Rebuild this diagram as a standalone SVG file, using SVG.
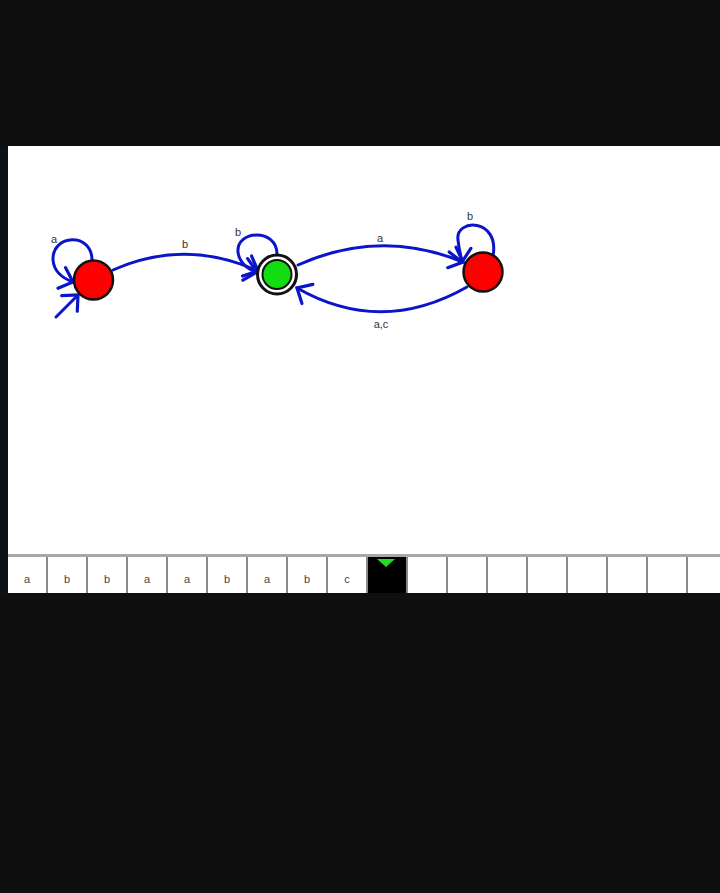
<svg xmlns="http://www.w3.org/2000/svg" width="720" height="893" viewBox="0 0 720 893">
<style>
.e{fill:none;stroke:#0a14c8;stroke-width:3;stroke-linecap:round}
.lbl{font-family:"Liberation Sans",Arial,sans-serif;font-size:11px;fill:#333;text-anchor:middle}
.tp{font-family:"Liberation Sans",Arial,sans-serif;font-size:11px;fill:#444;text-anchor:middle}
.sep{fill:#8a8a8a}
.st{stroke:#111;stroke-width:2.5}
</style>
<defs>
<marker id="ah" markerUnits="userSpaceOnUse" markerWidth="34" markerHeight="34" viewBox="-17 -17 34 34" refX="0" refY="0" orient="auto">
<path d="M-12,-11 L0,0 L-12,11" fill="none" stroke="#0a14c8" stroke-width="3.2" stroke-linecap="round"/>
</marker>
</defs>
<rect x="0" y="0" width="720" height="893" fill="#0f0f0f"/>
<rect x="0" y="146" width="8" height="448" fill="#0d1119"/>
<rect x="8" y="146" width="712" height="409" fill="#fff"/>
<g id="tape">
<rect x="8" y="554" width="712" height="3" fill="#a8a8a8"/>
<rect x="8" y="557" width="712" height="36" fill="#fff"/>
<rect x="46" y="557" width="2" height="36" class="sep"/>
<rect x="86" y="557" width="2" height="36" class="sep"/>
<rect x="126" y="557" width="2" height="36" class="sep"/>
<rect x="166" y="557" width="2" height="36" class="sep"/>
<rect x="206" y="557" width="2" height="36" class="sep"/>
<rect x="246" y="557" width="2" height="36" class="sep"/>
<rect x="286" y="557" width="2" height="36" class="sep"/>
<rect x="326" y="557" width="2" height="36" class="sep"/>
<rect x="366" y="557" width="2" height="36" class="sep"/>
<rect x="368" y="557" width="38" height="36" fill="#000"/>
<rect x="406" y="557" width="2" height="36" class="sep"/>
<rect x="446" y="557" width="2" height="36" class="sep"/>
<rect x="486" y="557" width="2" height="36" class="sep"/>
<rect x="526" y="557" width="2" height="36" class="sep"/>
<rect x="566" y="557" width="2" height="36" class="sep"/>
<rect x="606" y="557" width="2" height="36" class="sep"/>
<rect x="646" y="557" width="2" height="36" class="sep"/>
<rect x="686" y="557" width="2" height="36" class="sep"/>
<polygon points="377,559 395,559 386,567" fill="#22dd22"/>
<text x="27" y="583" class="tp">a</text>
<text x="67" y="583" class="tp">b</text>
<text x="107" y="583" class="tp">b</text>
<text x="147" y="583" class="tp">a</text>
<text x="187" y="583" class="tp">a</text>
<text x="227" y="583" class="tp">b</text>
<text x="267" y="583" class="tp">a</text>
<text x="307" y="583" class="tp">b</text>
<text x="347" y="583" class="tp">c</text>
</g>
<g id="connectors">
<path class="e" d="M56,317 L78,295" marker-end="url(#ah)"/>
<path class="e" d="M92,260 C92,232 52,234 53,260 C54,272 62,278 73,282" marker-end="url(#ah)"/>
<path class="e" d="M113,270 Q185,238 258,271" marker-end="url(#ah)"/>
<path class="e" d="M277,254 C277,228 236,230 238,252 C239,262 248,270 257,272" marker-end="url(#ah)"/>
<path class="e" d="M298,265 Q380,228 463,262" marker-end="url(#ah)"/>
<path class="e" d="M467,287 Q381,336 297,288" marker-end="url(#ah)"/>
<path class="e" d="M493,256 C500,218 455,218 458,240 C459,250 461,256 462,262" marker-end="url(#ah)"/>
<text x="54" y="243" class="lbl">a</text>
<text x="185" y="248" class="lbl">b</text>
<text x="238" y="236" class="lbl">b</text>
<text x="380" y="242" class="lbl">a</text>
<text x="381" y="328" class="lbl">a,c</text>
<text x="470" y="220" class="lbl">b</text>
</g>
<g id="q0">
<circle cx="93.5" cy="280" r="19.5" fill="#ff0000" class="st"/>
</g>
<g id="q1">
<circle cx="277" cy="274.5" r="19.5" fill="#fff" stroke="#111" stroke-width="3"/>
<circle cx="277" cy="274.5" r="14.5" fill="#11dd11" stroke="#111" stroke-width="2"/>
</g>
<g id="q2">
<circle cx="483" cy="272" r="19.5" fill="#ff0000" class="st"/>
</g>
</svg>
